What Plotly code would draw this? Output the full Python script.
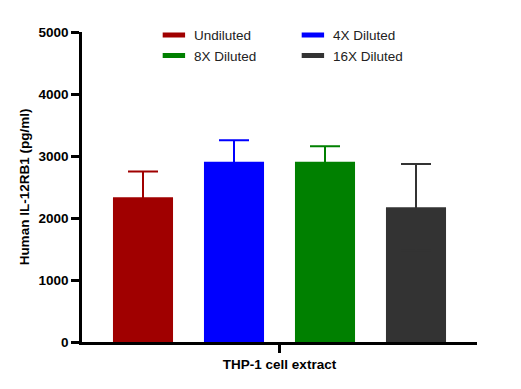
import plotly.graph_objects as go

category = ["THP-1 cell extract"]
series_names = ["Undiluted", "4X Diluted", "8X Diluted", "16X Diluted"]
means = [2335, 2907, 2907, 2172]
errors = [413, 349, 249, 698]
colors = ["#A00000", "#0000FF", "#008000", "#333333"]
y_tick_vals = [0, 1000, 2000, 3000, 4000, 5000]

FONT = "Arial, Liberation Sans, sans-serif"

fig = go.Figure()
for name, m, e, c in zip(series_names, means, errors, colors):
    fig.add_trace(go.Bar(
        x=category, y=[m], name=name, marker=dict(color=c, line=dict(width=0)),
        error_y=dict(type="data", array=[e], symmetric=True,
                     color=c, thickness=2, width=15),
        showlegend=False,
    ))
# legend swatches
for name, c in zip(series_names, colors):
    fig.add_trace(go.Scatter(
        x=[None], y=[None], mode="markers", name=name,
        marker=dict(symbol="line-ew", size=16, color=c, line=dict(color=c, width=5)),
        showlegend=True,
    ))

fig.update_layout(
    width=513, height=381,
    margin=dict(l=74, r=44, t=20, b=47),
    paper_bgcolor="white", plot_bgcolor="white",
    barmode="group", bargap=0.0785, bargroupgap=0.34,
    font=dict(family=FONT, color="#000000"),
    legend=dict(
        orientation="h", x=0.182, y=1.04, xanchor="left", yanchor="top",
        entrywidth=94, entrywidthmode="pixels",
        font=dict(family=FONT, size=13.5, color="#222222"),
        bgcolor="rgba(0,0,0,0)", tracegroupgap=0,
    ),
    xaxis=dict(
        type="category", showline=True, linecolor="black", linewidth=2.5,
        ticks="outside", ticklen=8, tickwidth=2.5, tickcolor="black",
        tickfont=dict(family=FONT, size=13.5, weight="bold", color="#000"),
        showgrid=False, zeroline=False, fixedrange=True,
    ),
    yaxis=dict(
        range=[0, 5000], tickvals=y_tick_vals, showline=True, linecolor="black",
        linewidth=2.5, ticks="outside", ticklen=8, tickwidth=2.5, tickcolor="black",
        tickfont=dict(family=FONT, size=13.5, weight="bold", color="#000"),
        showgrid=False, zeroline=False,
        title=dict(text="Human IL-12RB1 (pg/ml)", standoff=6,
                   font=dict(family=FONT, size=13.5, weight="bold", color="#000")),
    ),
)

fig.write_html("out.html")
